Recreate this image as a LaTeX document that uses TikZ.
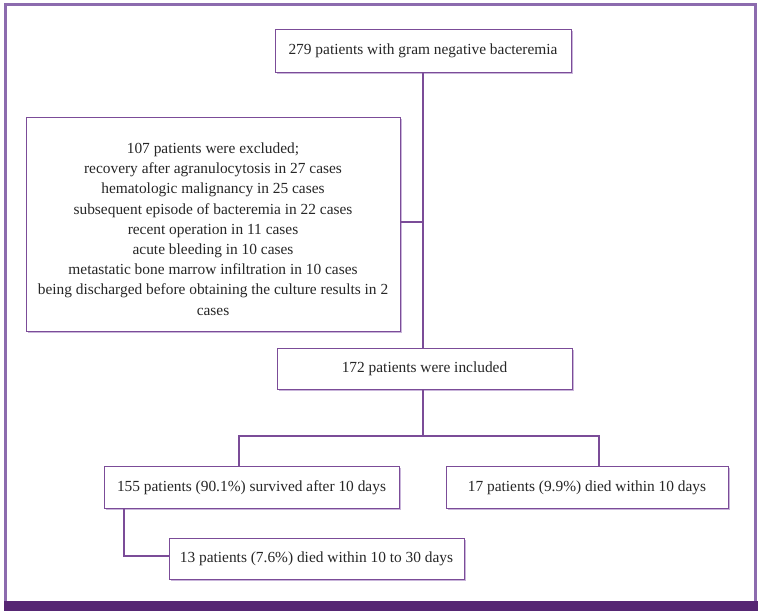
\documentclass[tikz,border=0pt]{standalone}
\usepackage{fontspec}
\setmainfont{Liberation Serif}
\begin{document}
\begin{tikzpicture}[x=1pt,y=-1pt,
  txt/.style={inner sep=0pt, font=\fontsize{15.4}{20.2}\selectfont, align=center, text=black!85},
  box/.style={txt, draw=boxline, line width=1pt, fill=white},
  conn/.style={draw=boxline, line width=1.2pt},
]
\definecolor{boxline}{HTML}{7B4C98}
\definecolor{frameline}{HTML}{8C6BAE}
\definecolor{barcol}{HTML}{562673}
\definecolor{shadowcol}{HTML}{C9B5DA}
\useasboundingbox (0,0) rectangle (762,614);
\fill[white] (0,0) rectangle (762,614);
% outer frame
\draw[frameline, line width=3pt] (5.5,605) -- (5.5,4.5) -- (755.5,4.5) -- (755.5,605);
\fill[barcol] (4,601) rectangle (758,611);
% shadows
\foreach \a/\b/\c/\d in {275/29/571/72, 26/117/400/331, 277/348/572/389, 104/466/399/508, 446/466/728/508, 169/538/464/579}{
  \fill[shadowcol] (\a+2,\b+2) rectangle (\c+2,\d+2);
}
% boxes
\node[box, minimum width=296pt, minimum height=43pt] (top) at (423,51) {279 patients with gram negative bacteremia};
\node[box, minimum width=374pt, minimum height=214pt] (excl) at (213,224) {};
\node[txt] (excltext) at (213,229) {107 patients were excluded;\\
recovery after agranulocytosis in 27 cases\\
hematologic malignancy in 25 cases\\
subsequent episode of bacteremia in 22 cases\\
recent operation in 11 cases\\
acute bleeding in 10 cases\\
metastatic bone marrow infiltration in 10 cases\\
being discharged before obtaining the culture results in 2\\
cases};
\node[box, minimum width=295pt, minimum height=41pt] (incl) at (424.5,369) {172 patients were included};
\node[box, minimum width=295pt, minimum height=42pt] (surv) at (251.5,487.5) {155 patients (90.1\%) survived after 10 days};
\node[box, minimum width=282pt, minimum height=42pt] (died) at (587,487.5) {17 patients (9.9\%) died within 10 days};
\node[box, minimum width=295pt, minimum height=41pt] (late) at (316.5,559) {13 patients (7.6\%) died within 10 to 30 days};
% connectors
\coordinate (trunk) at (423,222);
\coordinate (split) at (423,436);
\draw[conn] (top.south -| trunk) -- (incl.north -| trunk);
\draw[conn] (excl.east |- trunk) -- (trunk);
\draw[conn] (incl.south -| split) -- (split);
\coordinate (sl) at (239,436);
\coordinate (sr) at (599,436);
\draw[conn] (surv.north -| sl) -- (sl) -- (sr) -- (died.north -| sr);
\coordinate (lc) at (124,556);
\draw[conn] (surv.south -| lc) -- (lc) -- (late.west |- lc);
\end{tikzpicture}
\end{document}
